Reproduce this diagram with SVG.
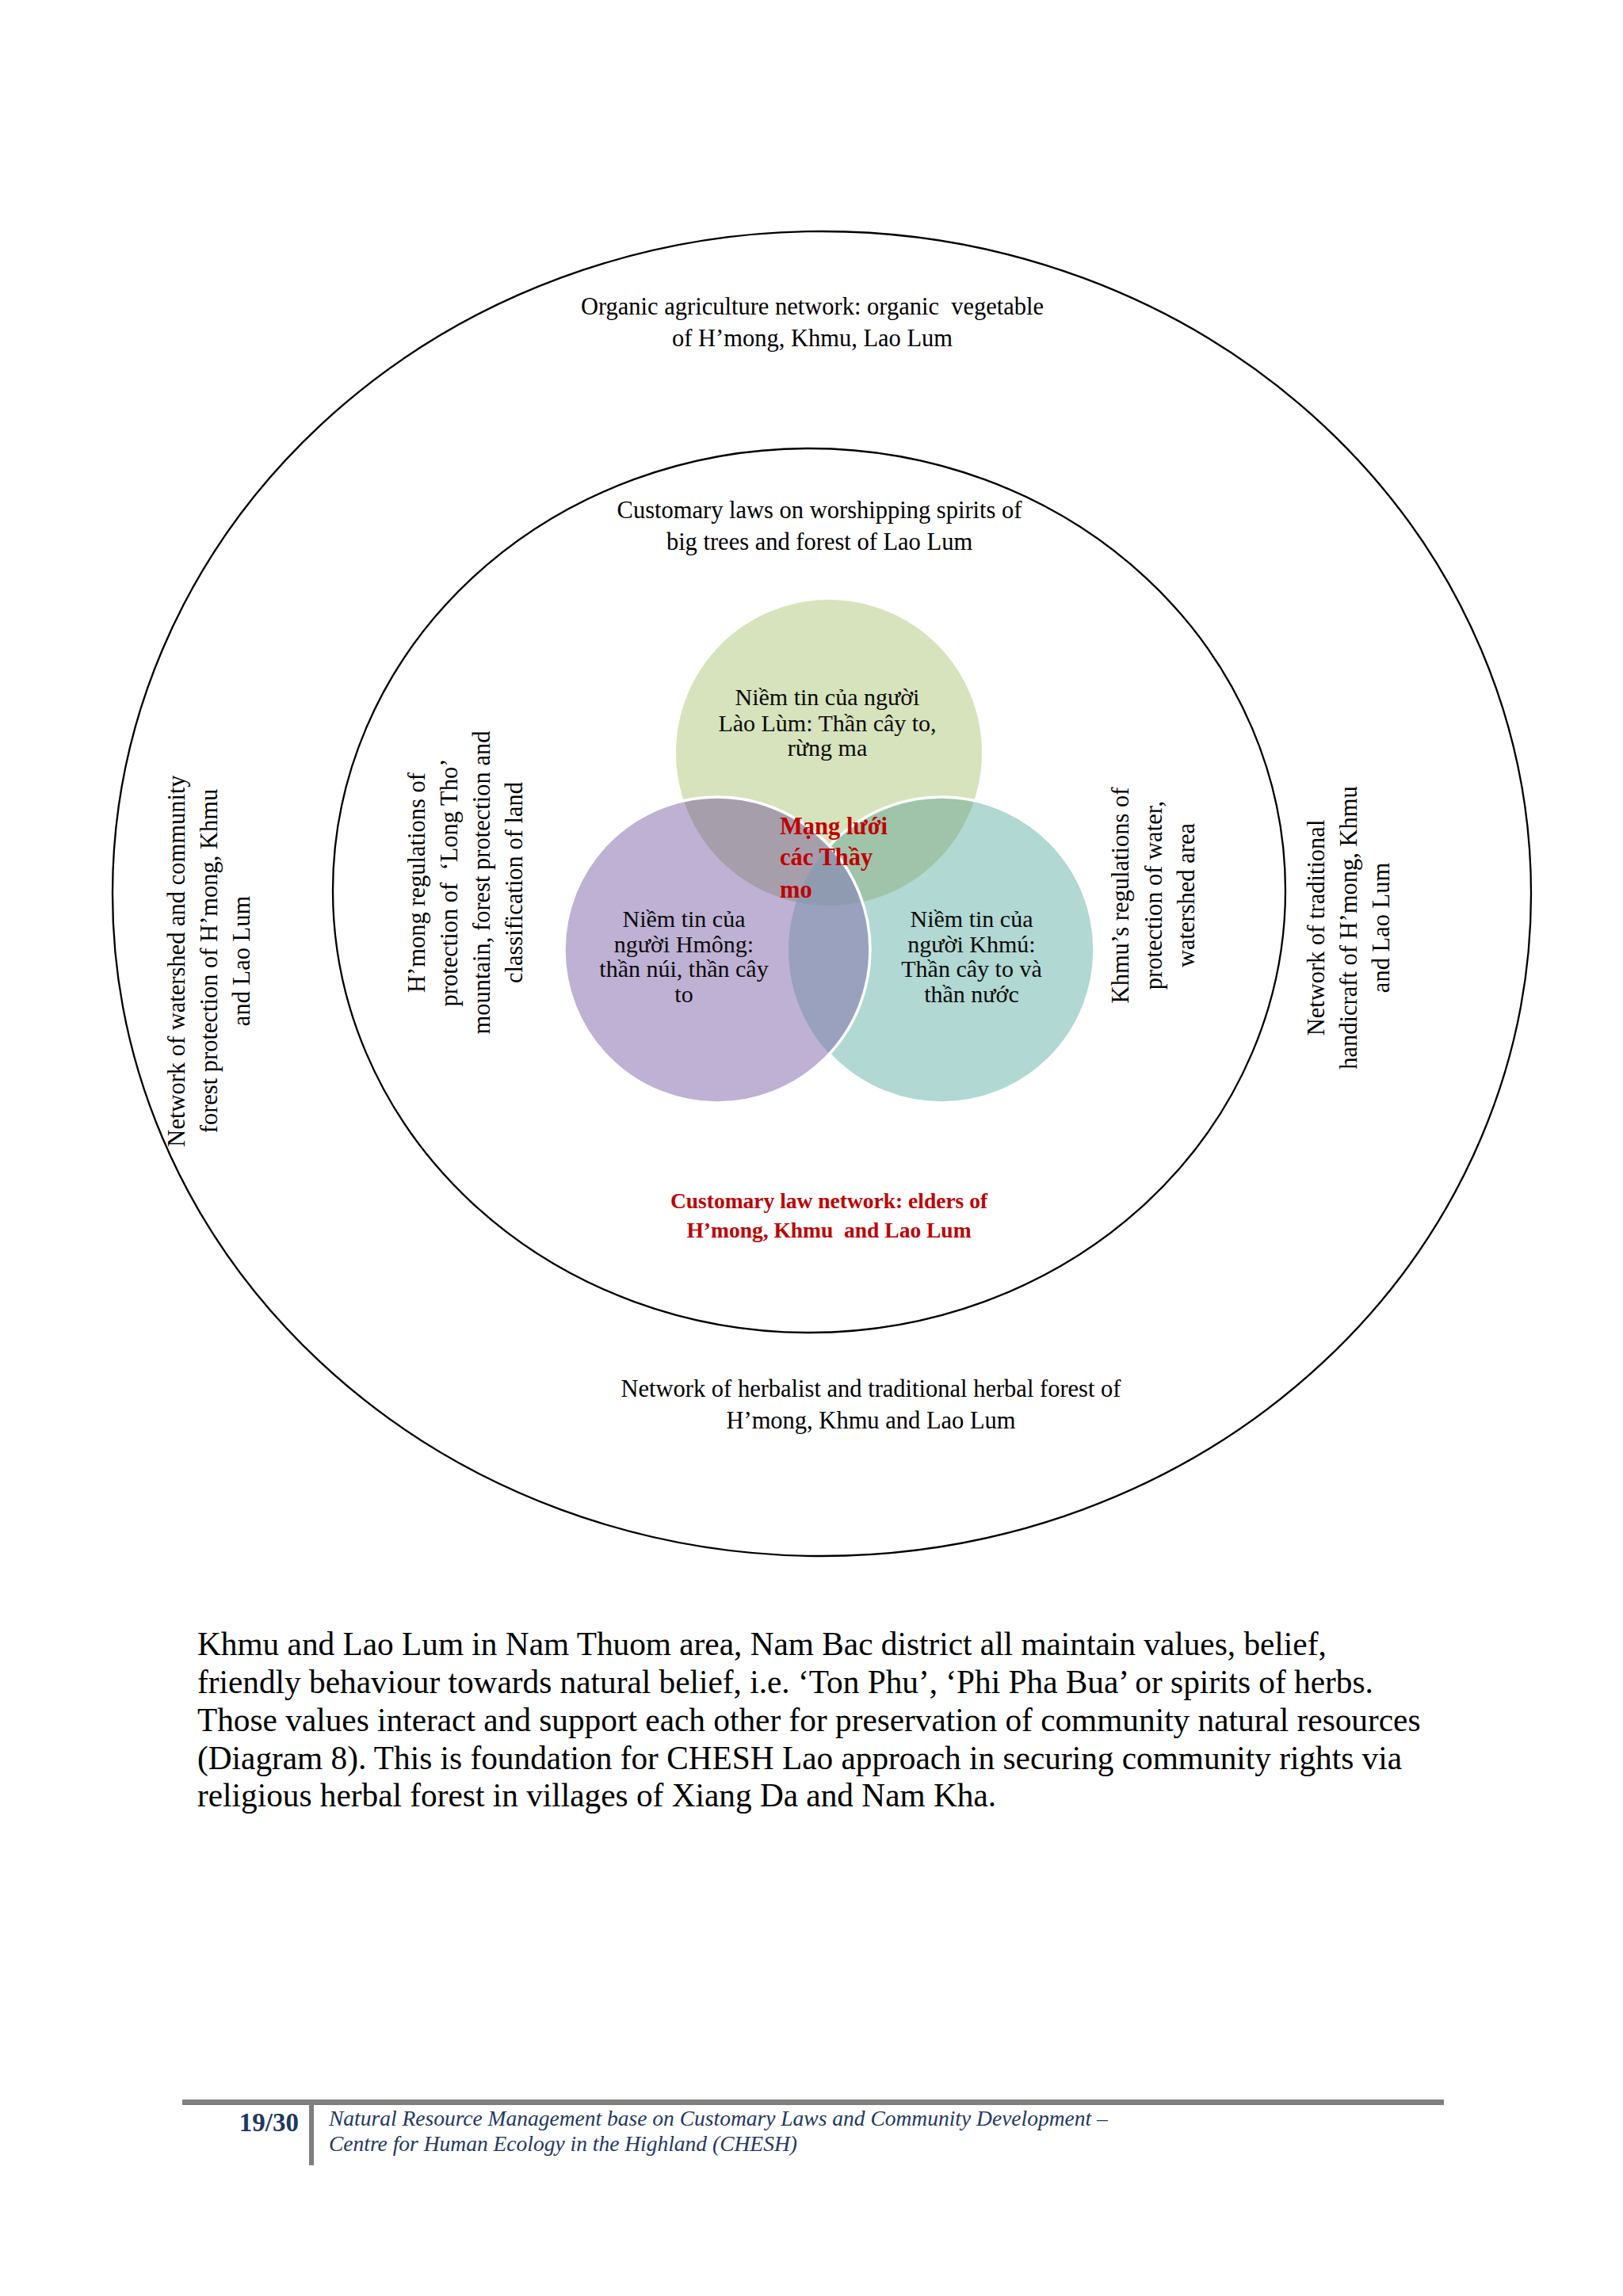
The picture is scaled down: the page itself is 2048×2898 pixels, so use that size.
<svg xmlns="http://www.w3.org/2000/svg" width="2048" height="2898" viewBox="0 0 2048 2898">
<defs>
<style>
.lbl{font-family:"Liberation Serif","Times New Roman",serif;font-size:30.5px;fill:#000;text-anchor:middle}
.vt{font-family:"Liberation Serif","Times New Roman",serif;font-size:30px;fill:#0a0a0a;text-anchor:middle}
.red{font-family:"Liberation Serif","Times New Roman",serif;font-weight:bold;fill:#c00000}
.ring{fill:none;stroke:#000;stroke-width:2.3}
.wst{fill:none;stroke:#fff;stroke-width:3.5}
.para{font-family:"Liberation Serif","Times New Roman",serif;font-size:41.3px;fill:#000}
.foot{font-family:"Liberation Serif","Times New Roman",serif;font-style:italic;font-size:27.5px;fill:#1f3864}
</style>
<clipPath id="cG"><circle cx="1046" cy="950" r="193"/></clipPath>
<clipPath id="cT"><circle cx="1188" cy="1199" r="193"/></clipPath>
</defs>
<rect x="0" y="0" width="2048" height="2898" fill="#fff"/>

<g id="outer-ring">
<ellipse class="ring" cx="1037" cy="1128" rx="895" ry="836"/>
<text class="lbl" xml:space="preserve"><tspan x="1025" y="397">Organic agriculture network: organic  vegetable</tspan><tspan x="1025" y="437">of H’mong, Khmu, Lao Lum</tspan></text>
<text class="lbl"><tspan x="1099" y="1763">Network of herbalist and traditional herbal forest of</tspan><tspan x="1099" y="1803">H’mong, Khmu and Lao Lum</tspan></text>
</g>

<g id="outer-left-label">
<text class="lbl" transform="translate(233,1213) rotate(-90)">Network of watershed and community</text>
<text class="lbl" transform="translate(274,1213) rotate(-90)">forest protection of H’mong, Khmu</text>
<text class="lbl" transform="translate(315,1213) rotate(-90)">and Lao Lum</text>
</g>

<g id="outer-right-label">
<text class="lbl" transform="translate(1671,1171) rotate(-90)">Network of traditional</text>
<text class="lbl" transform="translate(1712,1171) rotate(-90)">handicraft of H’mong, Khmu</text>
<text class="lbl" transform="translate(1753,1171) rotate(-90)">and Lao Lum</text>
</g>

<g id="inner-ring">
<ellipse class="ring" cx="1021" cy="1124" rx="601" ry="558"/>
<text class="lbl"><tspan x="1034" y="654">Customary laws on worshipping spirits of</tspan><tspan x="1034" y="694">big trees and forest of Lao Lum</tspan></text>
<text class="red" font-size="27.5" text-anchor="middle" xml:space="preserve"><tspan x="1046" y="1525">Customary law network: elders of</tspan><tspan x="1046" y="1562">H’mong, Khmu  and Lao Lum</tspan></text>
</g>

<g id="inner-left-label">
<text class="lbl" transform="translate(536,1114) rotate(-90)">H’mong regulations of</text>
<text class="lbl" transform="translate(577,1114) rotate(-90)" xml:space="preserve">protection of  ‘Long Tho’</text>
<text class="lbl" transform="translate(618,1114) rotate(-90)">mountain, forest protection and</text>
<text class="lbl" transform="translate(659,1114) rotate(-90)">classification of land</text>
</g>

<g id="inner-right-label">
<text class="lbl" transform="translate(1424,1130) rotate(-90)">Khmu’s regulations of</text>
<text class="lbl" transform="translate(1466,1130) rotate(-90)">protection of water,</text>
<text class="lbl" transform="translate(1507,1130) rotate(-90)">watershed area</text>
</g>

<g id="venn">
<g id="circle-laolum">
<circle cx="1046" cy="950" r="193" fill="#d7e3bc"/>
</g>
<g id="circle-khmu">
<circle cx="1188" cy="1199" r="193" fill="#b1d8d3"/>
<circle cx="1188" cy="1199" r="193" fill="#9fc4a9" clip-path="url(#cG)"/>
<circle class="wst" cx="1188" cy="1199" r="193"/>
</g>
<g id="circle-hmong">
<circle cx="905" cy="1199" r="193" fill="#bfb1d4"/>
<circle cx="905" cy="1199" r="193" fill="#a69fab" clip-path="url(#cG)"/>
<circle cx="905" cy="1199" r="193" fill="#99a1bf" clip-path="url(#cT)"/>
<g clip-path="url(#cG)"><circle cx="905" cy="1199" r="193" fill="#8f9bb1" clip-path="url(#cT)"/></g>
<circle class="wst" cx="905" cy="1199" r="193"/>
</g>
<g id="venn-text">
<text class="vt"><tspan x="1044" y="890">Niềm tin của người</tspan><tspan x="1044" y="923">Lào Lùm: Thần cây to,</tspan><tspan x="1044" y="954">rừng ma</tspan></text>
<text class="vt"><tspan x="863" y="1170">Niềm tin của</tspan><tspan x="863" y="1202">người Hmông:</tspan><tspan x="863" y="1233">thần núi, thần cây</tspan><tspan x="863" y="1265">to</tspan></text>
<text class="vt"><tspan x="1226" y="1170">Niềm tin của</tspan><tspan x="1226" y="1202">người Khmú:</tspan><tspan x="1226" y="1233">Thần cây to và</tspan><tspan x="1226" y="1265">thần nước</tspan></text>
<text class="red" font-size="30.5"><tspan x="984" y="1053">Mạng lưới</tspan><tspan x="984" y="1092">các Thầy</tspan><tspan x="984" y="1133">mo</tspan></text>
</g>
</g>

<g id="connectors"></g>

<g id="paragraph">
<text class="para"><tspan x="249" y="2089">Khmu and Lao Lum in Nam Thuom area, Nam Bac district all maintain values, belief,</tspan><tspan x="249" y="2137">friendly behaviour towards natural belief, i.e. ‘Ton Phu’, ‘Phi Pha Bua’ or spirits of herbs.</tspan><tspan x="249" y="2185">Those values interact and support each other for preservation of community natural resources</tspan><tspan x="249" y="2233">(Diagram 8). This is foundation for CHESH Lao approach in securing community rights via</tspan><tspan x="249" y="2280">religious herbal forest in villages of Xiang Da and Nam Kha.</tspan></text>
</g>

<g id="footer">
<rect x="230" y="2650" width="1592" height="7" fill="#7f7f7f"/>
<rect x="390" y="2657" width="6" height="76" fill="#7f7f7f"/>
<text x="377" y="2690" text-anchor="end" font-family="Liberation Serif, serif" font-weight="bold" font-size="33" fill="#1f3864">19/30</text>
<text class="foot"><tspan x="415" y="2683">Natural Resource Management base on Customary Laws and Community Development –</tspan><tspan x="415" y="2715">Centre for Human Ecology in the Highland (CHESH)</tspan></text>
</g>
</svg>
